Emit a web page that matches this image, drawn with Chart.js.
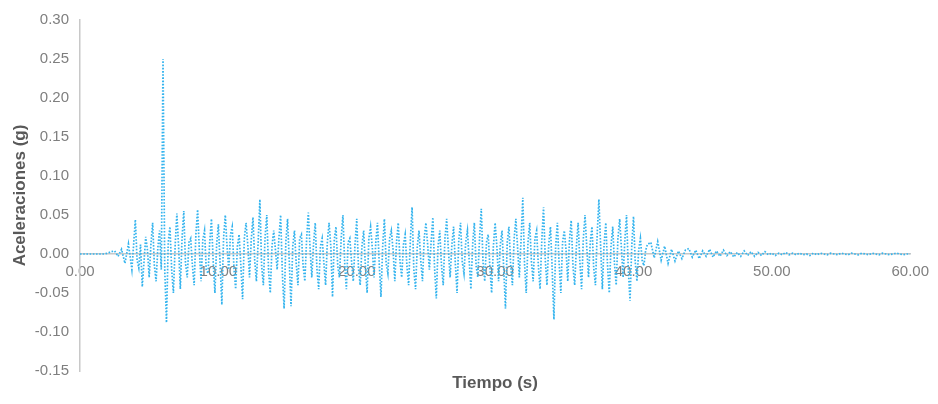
<!DOCTYPE html>
<html><head><meta charset="utf-8">
<style>html,body{margin:0;padding:0;background:#fff}#wrap{width:938px;height:404px;position:relative}</style>
<script src="https://cdn.jsdelivr.net/npm/chart.js@4.4.0/dist/chart.umd.min.js"></script>
</head><body><div id="wrap"><canvas id="c" width="938" height="404"></canvas></div>
<script>
// Record read in three segments (seconds, g)
// Lead-in: t = 0 .. 3.75 s, every 0.25 s
const LEAD_START = 0, LEAD_STEP = 0.25;
const accelLead = [
  0, 0, 0, 0, 0, 0, 0, 0,
  0.001, 0.003, 0.004, -0.003, 0.006, -0.012, 0.013, -0.02
];
// Strong motion: t = 4.0 .. 40.875 s, every 0.125 s (one row per second)
const STRONG_START = 4, STRONG_STEP = 0.125;
const accelStrong = [
  0.044, -0.008, -0.018, 0.012, -0.042, -0.01, 0.022, 0.005,
  -0.03, 0.012, 0.04, -0.015, -0.035, 0.008, 0.03, -0.02,
  0.25, -0.02, -0.088, 0.015, 0.035, -0.02, -0.05, 0.01,
  0.052, 0.01, -0.045, 0.02, 0.055, -0.012, -0.03, 0.015,
  0.02, -0.015, -0.04, 0.025, 0.057, 0.005, -0.035, 0.018,
  0.03, -0.02, -0.025, 0.015, 0.045, -0.01, -0.05, 0.012,
  0.038, -0.012, -0.065, 0.02, 0.05, 0.01, -0.02, 0.025,
  0.035, -0.018, -0.045, 0.01, 0.025, -0.015, -0.058, 0.02,
  0.04, 0.012, -0.03, 0.018, 0.047, -0.008, -0.035, 0.015,
  0.07, -0.015, -0.04, 0.022, 0.05, -0.02, -0.05, 0.01,
  0.03, 0.005, -0.02, 0.02, 0.05, -0.025, -0.07, 0.015,
  0.045, -0.01, -0.067, 0.01, 0.03, -0.012, -0.04, 0.02,
  0.025, -0.015, -0.035, 0.018, 0.053, 0.008, -0.03, 0.012,
  0.04, -0.02, -0.045, 0.01, 0.02, -0.012, -0.04, 0.015,
  0.04, 0.01, -0.055, 0.018, 0.035, -0.015, -0.03, 0.02,
  0.05, -0.01, -0.045, 0.015, 0.02, -0.01, -0.035, 0.012,
  0.045, -0.018, -0.04, 0.01, 0.03, -0.015, -0.05, 0.02,
  0.035, 0.008, -0.03, 0.015, 0.04, -0.012, -0.055, 0.01,
  0.045, -0.012, -0.025, 0.02, 0.03, 0.005, -0.035, 0.015,
  0.04, -0.01, -0.03, 0.012, 0.025, -0.015, -0.04, 0.018,
  0.06, -0.02, -0.045, 0.01, 0.03, -0.008, -0.035, 0.02,
  0.04, 0.012, -0.02, 0.015, 0.047, -0.018, -0.057, 0.01,
  0.03, -0.015, -0.04, 0.02, 0.045, 0.005, -0.03, 0.012,
  0.035, -0.012, -0.05, 0.018, 0.04, -0.01, -0.025, 0.015,
  0.03, -0.008, -0.045, 0.012, 0.04, -0.015, -0.03, 0.02,
  0.058, -0.01, -0.035, 0.015, 0.025, -0.018, -0.05, 0.01,
  0.04, 0.01, -0.035, 0.012, 0.03, -0.02, -0.07, 0.015,
  0.035, -0.015, -0.04, 0.02, 0.045, 0.008, -0.03, 0.018,
  0.072, -0.012, -0.05, 0.015, 0.04, -0.01, -0.035, 0.02,
  0.03, -0.015, -0.045, 0.018, 0.06, -0.008, -0.04, 0.012,
  0.035, -0.02, -0.084, 0.01, 0.04, -0.012, -0.05, 0.015,
  0.03, 0.005, -0.035, 0.018, 0.043, -0.015, -0.04, 0.01,
  0.04, -0.01, -0.045, 0.02, 0.05, 0.008, -0.03, 0.015,
  0.035, -0.018, -0.04, 0.025, 0.07, 0.01, -0.045, 0.012,
  0.04, -0.015, -0.05, 0.01, 0.035, -0.012, -0.04, 0.02,
  0.045, 0.008, -0.03, 0.018, 0.05, -0.02, -0.06, 0.01,
  0.048, -0.01, -0.035, 0.005, 0.02, -0.008, -0.015, 0.004
];
// Coda: t = 41.0 .. 60 s, every 0.25 s
const CODA_START = 41, CODA_STEP = 0.25;
const accelCoda = [
  0.012, 0.015, -0.005, 0.016,
  -0.008, 0.01, -0.012, 0.006, -0.009, 0.004, -0.006, 0.005,
  0.007, -0.004, 0.005, -0.006, 0.004, -0.003, 0.006, -0.004,
  0.004, -0.003, 0.005, -0.002, 0.003, -0.004, 0.002, -0.003,
  0.004, -0.002, 0.003, -0.003, 0.002, -0.002, 0.003, -0.001,
  0.001, -0.002, 0.001, -0.001, 0.002, -0.001, 0.001, -0.001,
  0.001, -0.001, 0, -0.002, 0.001, -0.001, 0.001, 0,
  -0.001, 0.001, 0, -0.001, 0.001, 0, -0.001, 0.001,
  0, -0.001, 0.001, 0, -0.001, 0.001, 0, -0.001,
  0.001, 0, -0.001, 0, 0.001, 0, -0.001, 0,
  0
];
const xAxisTitle = 'Tiempo (s)';
const yAxisTitle = 'Aceleraciones (g)';

const seg = (arr, t0, dt) => arr.map((a, i) => ({ x: t0 + i * dt, y: a }));
const points = [].concat(
  seg(accelLead, LEAD_START, LEAD_STEP),
  seg(accelStrong, STRONG_START, STRONG_STEP),
  seg(accelCoda, CODA_START, CODA_STEP)
);

const FONT = '"Liberation Sans", Arial, sans-serif';
const xTitlePlugin = {
  id: 'xTitle',
  afterDraw(chart) {
    const { ctx, chartArea } = chart;
    ctx.save();
    ctx.font = 'bold 17px ' + FONT;
    ctx.fillStyle = '#595959';
    ctx.textAlign = 'center';
    ctx.textBaseline = 'middle';
    ctx.fillText(xAxisTitle, (chartArea.left + chartArea.right) / 2, 383);
    ctx.restore();
  }
};

new Chart(document.getElementById('c'), {
  type: 'line',
  data: {
    datasets: [{
      data: points,
      borderColor: '#35b4ee',
      borderWidth: 1.7,
      borderDash: [1.6, 1.6],
      pointRadius: 0,
      tension: 0,
      fill: false
    }]
  },
  options: {
    responsive: false,
    animation: false,
    devicePixelRatio: 1,
    layout: { padding: { left: 0, top: 15, right: 26, bottom: 33 } },
    plugins: { legend: { display: false }, tooltip: { enabled: false } },
    scales: {
      x: {
        type: 'linear',
        axis: 'x',
        position: { y: 0 },
        min: 0, max: 60,
        grid: { display: true, drawOnChartArea: false, drawTicks: false },
        border: { display: true, color: '#c8c8c8', width: 1.5 },
        ticks: {
          stepSize: 10,
          padding: 9,
          color: '#7f7f7f',
          font: { size: 15, family: FONT },
          callback: v => v.toFixed(2),
          maxRotation: 0
        }
      },
      y: {
        min: -0.15, max: 0.30,
        afterFit(scale) { scale.width = 80; },
        grid: { display: true, drawOnChartArea: false, drawTicks: false },
        border: { display: true, color: '#c8c8c8', width: 1.5 },
        ticks: {
          stepSize: 0.05,
          padding: 11,
          color: '#7f7f7f',
          font: { size: 15, family: FONT },
          callback: v => v.toFixed(2)
        },
        title: {
          display: true,
          text: yAxisTitle,
          color: '#595959',
          font: { size: 17, weight: 'bold', family: FONT },
          padding: { top: 10, bottom: 0 }
        }
      }
    }
  },
  plugins: [xTitlePlugin]
});
</script>
</body></html>
